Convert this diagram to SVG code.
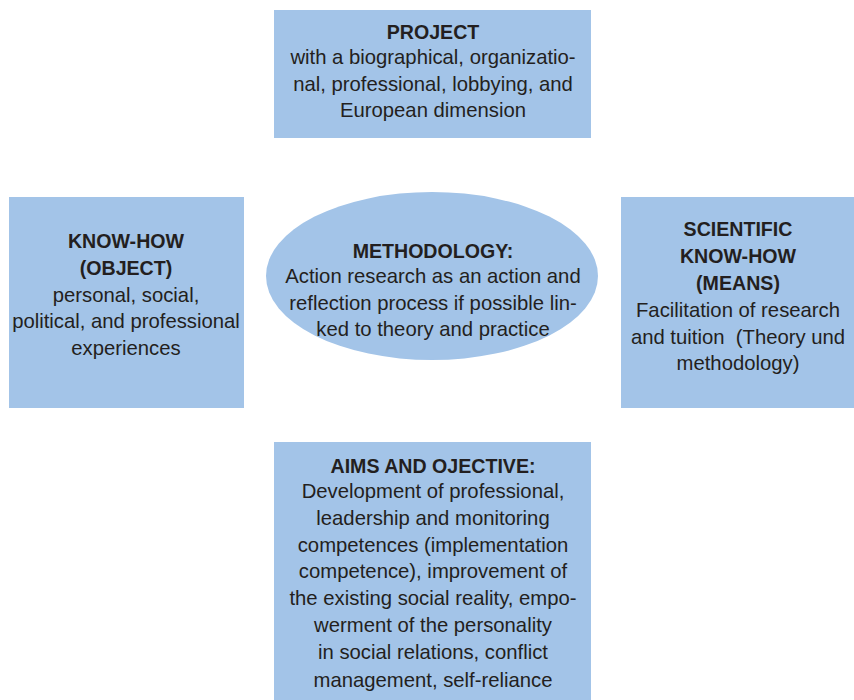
<svg xmlns="http://www.w3.org/2000/svg" width="854" height="700" viewBox="0 0 854 700">
<style>
.box{fill:#a3c4e8;stroke:none}
text{font-family:"Liberation Sans","DejaVu Sans",sans-serif;font-size:20.3px;fill:#231f20;text-anchor:middle}
.b{font-weight:bold;font-size:19.6px}
</style>
<rect width="854" height="700" fill="#ffffff"/>
<g id="connectors"></g>
<g id="project">
<rect class="box" x="274" y="10" width="317" height="128"/>
<text class="b" x="433" y="39">PROJECT</text>
<text x="433" y="64">with a biographical, organizatio-</text>
<text x="433" y="91">nal, professional, lobbying, and</text>
<text x="433" y="117">European dimension</text>
</g>
<g id="knowhow">
<rect class="box" x="9" y="197" width="235" height="211"/>
<text class="b" x="126" y="248">KNOW-HOW</text>
<text class="b" x="126" y="275">(OBJECT)</text>
<text x="126" y="302">personal, social,</text>
<text x="126" y="328">political, and professional</text>
<text x="126" y="355">experiences</text>
</g>
<g id="scientific">
<rect class="box" x="621" y="197" width="233" height="211"/>
<text class="b" x="738" y="236">SCIENTIFIC</text>
<text class="b" x="738" y="263">KNOW-HOW</text>
<text class="b" x="738" y="290">(MEANS)</text>
<text x="738" y="317">Facilitation of research</text>
<text x="738" y="344">and tuition&#160; (Theory und</text>
<text x="738" y="370">methodology)</text>
</g>
<g id="methodology">
<ellipse class="box" cx="432" cy="276" rx="166" ry="84"/>
<text class="b" x="433" y="258">METHODOLOGY:</text>
<text x="433" y="283">Action research as an action and</text>
<text x="433" y="310">reflection process if possible lin-</text>
<text x="433" y="336">ked to theory and practice</text>
</g>
<g id="aims">
<rect class="box" x="274" y="442" width="317" height="258"/>
<text class="b" x="433" y="473">AIMS AND OJECTIVE:</text>
<text x="433" y="498">Development of professional,</text>
<text x="433" y="525">leadership and monitoring</text>
<text x="433" y="552">competences (implementation</text>
<text x="433" y="578">competence), improvement of</text>
<text x="433" y="605">the existing social reality, empo-</text>
<text x="433" y="632">werment of the personality</text>
<text x="433" y="659">in social relations, conflict</text>
<text x="433" y="687">management, self-reliance</text>
</g>
</svg>
